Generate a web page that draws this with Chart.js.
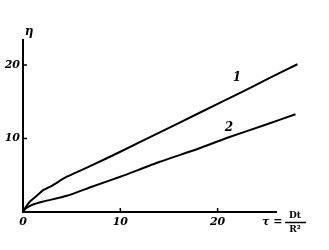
<!DOCTYPE html>
<html>
<head>
<meta charset="utf-8">
<script src="https://cdn.jsdelivr.net/npm/chart.js@4/dist/chart.umd.min.js"></script>
<style>
  html, body { margin: 0; padding: 0; background: #fff; }
  #wrap { width: 329px; height: 250px; }
</style>
</head>
<body>
<div id="wrap"><canvas id="etaChart" width="329" height="250"></canvas></div>
<script>
// curve 1
const tau1 = [0, 0.3, 0.7, 1.5, 2.1, 3, 4.5, 7, 10, 14, 18, 22, 25, 28.2];
const eta1 = [0, 0.7, 1.4, 2.3, 3.0, 3.6, 4.8, 6.3, 8.2, 10.8, 13.4, 16.0, 18.0, 20.1];
// curve 2
const tau2 = [0, 0.3, 1, 2, 4.5, 7, 10, 14, 18, 21, 25, 28, 30.9];
const eta2 = [0, 0.5, 1.0, 1.4, 2.2, 3.4, 4.8, 6.8, 8.6, 10.1, 11.9, 13.3, 14.6];

const xTicks = [0, 10, 20];
const yTicks = [10, 20];
const curveLabels = ["1", "2"];

const ctx = document.getElementById("etaChart").getContext("2d");

const toPoints = (xs, ys) => xs.map((x, i) => ({ x: x, y: ys[i] }));

// extra text: axis names, curve numbers, inward tick marks
const annotations = {
  id: "annotations",
  afterDraw(chart) {
    const c = chart.ctx;
    const xs = chart.scales.x;
    const ys = chart.scales.y;
    const area = chart.chartArea;
    c.save();
    c.fillStyle = "#000";
    c.strokeStyle = "#000";
    c.lineWidth = 1.5;
    // ticks pointing into the plot
    xTicks.slice(1).forEach((v) => {
      const px = xs.getPixelForValue(v);
      c.beginPath();
      c.moveTo(px, area.bottom);
      c.lineTo(px, area.bottom - 4);
      c.stroke();
    });
    yTicks.forEach((v) => {
      const py = ys.getPixelForValue(v);
      c.beginPath();
      c.moveTo(area.left, py);
      c.lineTo(area.left + 4, py);
      c.stroke();
    });
    c.font = "italic bold 12px 'DejaVu Serif'";
    c.textAlign = "center";
    c.textBaseline = "middle";
    c.fillText("η", 29, 32);
    c.fillText(curveLabels[0], 237, 78);
    c.fillText(curveLabels[1], 229, 128);
    // tau = Dt / R^2
    c.font = "italic bold 11px 'DejaVu Serif'";
    c.textAlign = "left";
    c.fillText("τ =", 262, 222);
    c.font = "bold 9px 'DejaVu Serif'";
    c.textAlign = "center";
    c.fillText("Dt", 295, 216);
    c.fillText("R²", 295, 230);
    c.beginPath();
    c.moveTo(285, 222.5);
    c.lineTo(306, 222.5);
    c.stroke();
    c.restore();
  },
};

const config = {
  type: "scatter",
  data: {
    datasets: [
      {
        data: toPoints(tau1, eta1),
        showLine: true,
        borderColor: "#000",
        borderWidth: 2,
        pointRadius: 0,
        tension: 0.2,
        clip: false,
      },
      {
        data: toPoints(tau2, eta2),
        showLine: true,
        borderColor: "#000",
        borderWidth: 2,
        pointRadius: 0,
        tension: 0.2,
        clip: false,
      },
    ],
  },
  options: {
    responsive: false,
    animation: false,
    layout: { padding: { top: 40, right: 53, left: 0, bottom: 0 } },
    plugins: { legend: { display: false }, tooltip: { enabled: false } },
    scales: {
      x: {
        type: "linear",
        min: 0,
        max: 26,
        afterFit: (s) => { s.height = 38; },
        afterBuildTicks: (s) => { s.ticks = xTicks.map((v) => ({ value: v })); },
        grid: { display: true, drawOnChartArea: false, drawTicks: false },
        border: { display: true, color: "#000", width: 2 },
        ticks: {
          color: "#000",
          padding: 4,
          font: { family: "'DejaVu Serif'", size: 11, weight: "bold", style: "italic" },
        },
      },
      y: {
        type: "linear",
        min: 0,
        max: 23.4,
        afterFit: (s) => { s.width = 23; },
        afterBuildTicks: (s) => { s.ticks = yTicks.map((v) => ({ value: v })); },
        grid: { display: true, drawOnChartArea: false, drawTicks: false },
        border: { display: true, color: "#000", width: 2 },
        ticks: {
          color: "#000",
          padding: 3,
          font: { family: "'DejaVu Serif'", size: 11, weight: "bold", style: "italic" },
        },
      },
    },
  },
  plugins: [annotations],
};

const etaChart = new Chart(ctx, config);
</script>
</body>
</html>
